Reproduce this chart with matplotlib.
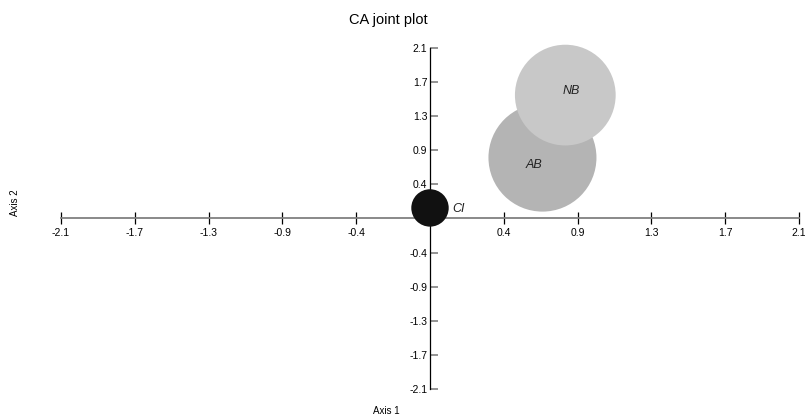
import matplotlib
matplotlib.use('Agg')
import matplotlib.pyplot as plt
import numpy as np

plt.rcParams['font.family'] = ['Liberation Sans', 'DejaVu Sans']

# CA joint plot - row points
labels = ['CI', 'AB', 'NB']
ax1 = [0.0, 0.64, 0.77]
ax2 = [0.13, 0.75, 1.52]
mass = [0.12, 1.0, 0.87]   # relative weight -> bubble area
cores = ['#111111', '#b4b4b4', '#c8c8c8']

ticks = np.linspace(-2.1, 2.1, 11)
tick_lab = ['-2.1', '-1.7', '-1.3', '-0.9', '-0.4', '', '0.4', '0.9', '1.3', '1.7', '2.1']

W, H = 805, 419
fig = plt.figure(figsize=(W / 100, H / 100), dpi=100)
ax = fig.add_axes([61 / W, 30 / H, 738 / W, 341 / H])
ax.set_xlim(-2.1, 2.1)
ax.set_ylim(-2.1, 2.1)

for s in ['top', 'right']:
    ax.spines[s].set_visible(False)
ax.spines['bottom'].set_position('zero')
ax.spines['left'].set_position('zero')
ax.spines['bottom'].set_color('#808080')
ax.spines['bottom'].set_linewidth(1.3)
ax.spines['left'].set_color('black')
ax.spines['left'].set_linewidth(0.9)

ax.set_xticks(ticks)
ax.set_xticklabels(tick_lab)
ax.set_yticks(ticks)
ax.set_yticklabels(tick_lab)
ax.tick_params(axis='x', direction='inout', length=8, width=0.9, color='black',
               labelsize=7.5, pad=3)
ax.tick_params(axis='y', direction='in', length=6, width=1.2, color='#808080',
               labelsize=7.5, pad=2)
for t in ax.get_xticklines() + ax.get_yticklines():
    t.set_clip_on(False)

# bubbles: radius in px proportional to sqrt(mass)
r_px = 54 * np.sqrt(np.array(mass))
s = (2 * r_px * 0.72) ** 2
for i in range(len(labels)):
    ax.scatter(ax1[i], ax2[i], s=s[i], color=cores[i], edgecolors='none',
               zorder=3 + i, clip_on=False)

ax.annotate(labels[0], (ax1[0], ax2[0]), xytext=(16, -1), textcoords='offset points',
            fontsize=9, style='italic', color='#222222', zorder=10,
            ha='left', va='center')
ax.annotate(labels[1], (ax1[1], ax2[1]), xytext=(-6, -5), textcoords='offset points',
            fontsize=9, style='italic', color='#222222', zorder=10,
            ha='center', va='center')
ax.annotate(labels[2], (ax1[2], ax2[2]), xytext=(4, 3), textcoords='offset points',
            fontsize=9, style='italic', color='#222222', zorder=10,
            ha='center', va='center')

fig.text(388 / W, 1 - 20 / H, 'CA joint plot', ha='center', va='center', fontsize=10.5)
fig.text(386 / W, 1 - 411 / H, 'Axis 1', ha='center', va='center', fontsize=7)
fig.text(15 / W, 1 - 203 / H, 'Axis 2', ha='center', va='center', fontsize=7,
         rotation=90)

fig.savefig('out.png', dpi=100)
